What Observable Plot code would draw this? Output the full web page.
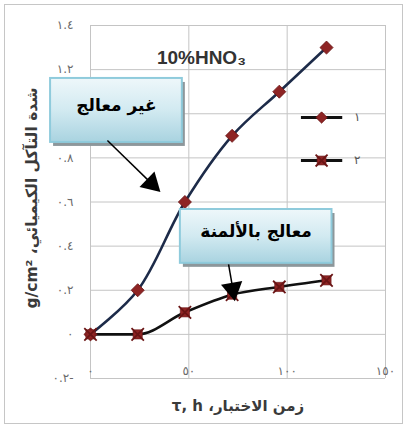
<!DOCTYPE html>
<html>
<head>
<meta charset="utf-8">
<script src="https://cdn.jsdelivr.net/npm/d3@7"></script>
<script src="https://cdn.jsdelivr.net/npm/@observablehq/plot@0.6"></script>
<style>
  html, body { margin: 0; padding: 0; background: #fff; }
  #wrap { position: relative; width: 407px; height: 428px; }
  #border { position: absolute; left: 4px; top: 4px; width: 399px; height: 420px; border: 1px solid #c6c6c6; box-sizing: border-box; pointer-events: none; }
  svg { font-family: "DejaVu Sans", sans-serif; }
</style>
</head>
<body>
<div id="wrap"><div id="border"></div></div>
<script>
// ---- data ----
const hours = [0, 24, 48, 72, 96, 120];
const untreated = [0, 0.2, 0.6, 0.9, 1.1, 1.3];      // series ١ (غير معالج)
const aluminized = [0, 0, 0.1, 0.18, 0.215, 0.245];   // series ٢ (معالج بالألمنة)
const xTicks = [0, 50, 100, 150];
const yTicks = [-0.2, 0, 0.2, 0.4, 0.6, 0.8, 1, 1.2, 1.4];
const legendLabels = ["١", "٢"];
const titleText = "10%HNO₃";
const xLabel = "زمن الاختبار، τ, h";
const yLabel = "شدة التآكل الكيميائي، g/cm²";
const calloutTexts = ["غير معالج", "معالج بالألمنة"];

// ---- annotation layout (data coordinates) ----
const boxes = [
  {x1: -20.3, x2: 46.7, y1: 0.870, y2: 1.160, tx: 13.2, ty: 1.015, text: calloutTexts[0]},
  {x1: 45.7, x2: 122.8, y1: 0.322, y2: 0.566, tx: 84.2, ty: 0.444, text: calloutTexts[1]}
];
const arrows = [
  {x1: 8.6, y1: 0.879, x2: 31.5, y2: 0.680, hx: 31.0, hy: 0.684, rot: 134},
  {x1: 70.2, y1: 0.317, x2: 72.2, y2: 0.215, hx: 72.3, hy: 0.206, rot: 170}
];
const legendRows = [
  {x1: 107, x2: 128, y: 0.983, lx: 134, label: legendLabels[0], sym: "diamond"},
  {x1: 107, x2: 128, y: 0.788, lx: 134, label: legendLabels[1], sym: "x"}
];

const s1 = hours.map((h, i) => ({x: h, y: untreated[i]}));
const s2 = hours.map((h, i) => ({x: h, y: aluminized[i]}));

const toArabic = d => {
  const s = Math.abs(d).toString().replace(/\d/g, c => "٠١٢٣٤٥٦٧٨٩"[+c]);
  return d < 0 ? s + "-" : s;
};
const rtl = s => "\u202B" + s + "\u202C";

const navy = "#1d2b49";
const markerRed = "#8e2424";
const markerDark = "#6a1515";

const svg = Plot.plot({
  width: 407,
  height: 428,
  marginLeft: 90,
  marginRight: 22,
  marginTop: 25,
  marginBottom: 50,
  x: {domain: [0, 150]},
  y: {domain: [-0.2, 1.4]},
  style: {fontFamily: "DejaVu Sans, sans-serif", background: "transparent"},
  marks: [
    Plot.gridX(xTicks, {stroke: "#c4c4c4", strokeOpacity: 1, strokeWidth: 1}),
    Plot.gridY(yTicks, {stroke: "#c4c4c4", strokeOpacity: 1, strokeWidth: 1}),
    Plot.axisY(yTicks, {tickSize: 0, tickPadding: 17, tickFormat: toArabic, label: null, fill: "#6a6a6a", fontSize: 12}),
    Plot.axisX(xTicks, {tickSize: 0, tickPadding: 0, dy: -12, tickFormat: toArabic, label: null, fill: "#6a6a6a", fontSize: 12}),
    Plot.text([rtl(yLabel)], {frameAnchor: "left", textAnchor: "middle", rotate: -90, dx: -58, dy: -4, fontWeight: "bold", fontSize: 15.5, fill: "#3a3a3a"}),
    Plot.text([rtl(xLabel)], {frameAnchor: "bottom", textAnchor: "middle", dy: 32, fontWeight: "bold", fontSize: 15, fill: "#3a3a3a"}),
    Plot.text([titleText], {x: 56.4, y: 1.255, fontWeight: "bold", fontSize: 19, fill: "#333", fontFamily: "Liberation Sans, Arial, sans-serif"}),
    // series lines
    Plot.line(s1, {x: "x", y: "y", curve: "catmull-rom", stroke: navy, strokeWidth: 2.6}),
    Plot.line(s2, {x: "x", y: "y", curve: "monotone-x", stroke: "#111", strokeWidth: 2.6}),
    // markers
    Plot.dot(s1, {x: "x", y: "y", symbol: "square", rotate: 45, r: 5.2, fill: markerRed, stroke: markerDark, strokeWidth: 0.8}),
    Plot.dot(s2, {x: "x", y: "y", symbol: "square", r: 5.2, fill: markerRed, stroke: markerDark, strokeWidth: 0.6}),
    Plot.dot(s2, {x: "x", y: "y", symbol: "times", r: 5.7, stroke: markerDark, strokeWidth: 1.8}),
    // legend
    Plot.link(legendRows, {x1: "x1", x2: "x2", y1: "y", y2: "y", stroke: "#111", strokeWidth: 3}),
    Plot.dot(legendRows.filter(d => d.sym === "diamond"), {x: d => (d.x1 + d.x2) / 2, y: "y", symbol: "square", rotate: 45, r: 4.5, fill: markerRed, stroke: markerDark, strokeWidth: 0.8}),
    Plot.dot(legendRows.filter(d => d.sym === "x"), {x: d => (d.x1 + d.x2) / 2, y: "y", symbol: "square", r: 5, fill: markerRed, stroke: markerDark, strokeWidth: 0.6}),
    Plot.dot(legendRows.filter(d => d.sym === "x"), {x: d => (d.x1 + d.x2) / 2, y: "y", symbol: "times", r: 5.5, stroke: markerDark, strokeWidth: 1.8}),
    Plot.text(legendRows, {x: "lx", y: "y", text: "label", textAnchor: "start", fontSize: 12, fill: "#555"}),
    // callouts
    Plot.rect(boxes, {x1: "x1", x2: "x2", y1: "y1", y2: "y2", dx: 3, dy: 4, fill: "#8d979b"}),
    Plot.rect(boxes, {x1: "x1", x2: "x2", y1: "y1", y2: "y2", fill: "url(#calloutGrad)", stroke: "#8fcbdc", strokeWidth: 2}),
    Plot.text(boxes, {x: "tx", y: "ty", text: d => rtl(d.text), dy: -5, fontWeight: "bold", fontSize: 17, fill: "#000"}),
    // arrows
    Plot.link(arrows, {x1: "x1", y1: "y1", x2: "x2", y2: "y2", stroke: "#000", strokeWidth: 1.5}),
    Plot.dot(arrows, {x: "hx", y: "hy", symbol: "triangle", r: 8, fill: "#000", rotate: "rot"})
  ]
});

d3.select(svg).insert("defs", ":first-child").html(`
  <linearGradient id="calloutGrad" x1="0" y1="0" x2="0" y2="1">
    <stop offset="0" stop-color="#eef7fa"/>
    <stop offset="0.5" stop-color="#d2eaf1"/>
    <stop offset="1" stop-color="#a9d3e0"/>
  </linearGradient>`);

document.getElementById("wrap").appendChild(svg);
</script>
</body>
</html>
